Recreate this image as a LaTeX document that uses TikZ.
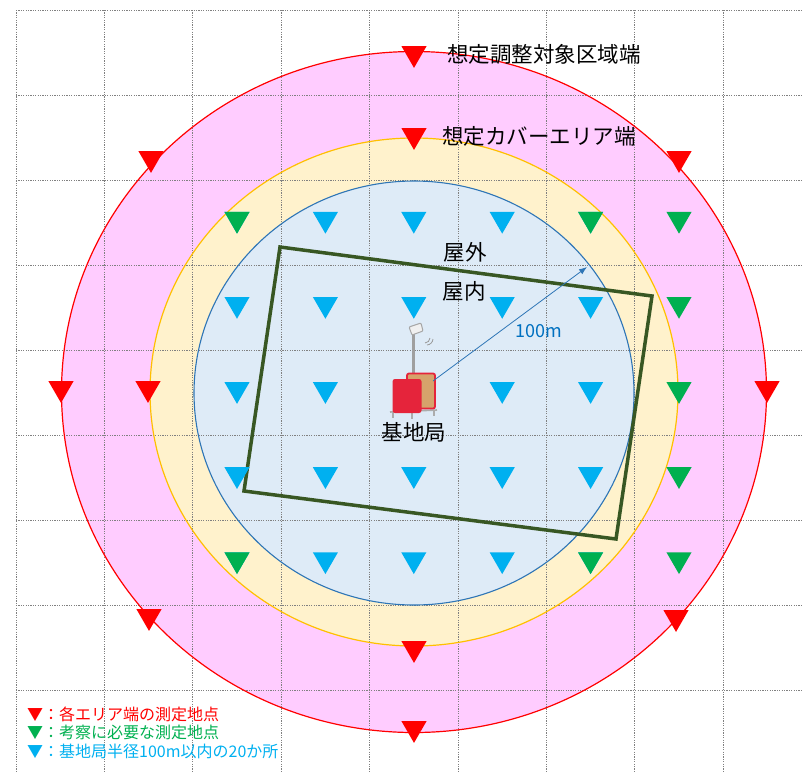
\documentclass[tikz,border=0pt]{standalone}
\usepackage{fontspec}
\setmainfont{Noto Sans CJK JP}
\usetikzlibrary{shapes.geometric,arrows.meta}
\definecolor{zonepink}{HTML}{FFCCFF}
\definecolor{coverfill}{HTML}{FFF2CC}
\definecolor{coverline}{HTML}{FFC000}
\definecolor{cellfill}{HTML}{DEEBF7}
\definecolor{cellline}{HTML}{2E75B6}
\definecolor{markcyan}{HTML}{00B0F0}
\definecolor{markgreen}{HTML}{00B050}
\definecolor{bldgreen}{HTML}{385723}
\definecolor{textblue}{HTML}{0070C0}
\definecolor{vanred}{HTML}{E5243B}
\definecolor{vantan}{HTML}{D6A36B}
\tikzset{
  gridline/.style  = {black!50, line width=1pt, dash pattern=on 1.1pt off 1.3pt},
  pointmark/.style = {regular polygon, regular polygon sides=3,
                      shape border rotate=180, minimum size=29pt,
                      inner sep=0pt, yshift=3.6pt},
  edgemark/.style  = {pointmark, fill=red},
  checkmark/.style = {pointmark, fill=markgreen},
  basemark/.style  = {pointmark, fill=markcyan},
  zonelabel/.style = {font=\fontsize{21.5}{25}\selectfont, inner sep=0pt},
  keyline/.style   = {font=\fontsize{16}{18}\selectfont, anchor=west, inner sep=0pt}
}

\begin{document}
\begin{tikzpicture}[x=1pt, y=-1pt]
\useasboundingbox (0,0) rectangle (802,772);

% areas
\fill[zonepink]  (414,392) ellipse [x radius=352.5, y radius=340.5];
\fill[coverfill] (414,392) ellipse [x radius=264,   y radius=254];
\fill[cellfill]  (414,393) ellipse [x radius=220,   y radius=212];

% grid
\foreach \k in {0,...,8} {
  \draw[gridline] ({16+88.4*\k},10) -- ({16+88.4*\k},772);
  \draw[gridline] (16,{10+85.1*\k}) -- (802,{10+85.1*\k});
}

\draw[red, line width=1.2pt]         (414,392) ellipse [x radius=352.5, y radius=340.5];
\draw[coverline, line width=1.2pt]   (414,392) ellipse [x radius=264,   y radius=254];
\draw[cellline, line width=1.1pt]    (414,393) ellipse [x radius=220,   y radius=212];

% building
\draw[bldgreen, line width=3.5pt] (280,247) -- (652,296) -- (616,539) -- (244,491) -- cycle;

% base station
\draw[gray!75, line width=2.5pt] (413.5,377) -- (413.5,334);
\filldraw[fill=gray!12, draw=gray!70, line width=1pt, rounded corners=1pt]
  (409,327) -- (421,323) -- (423,331) -- (412,335) -- cycle;
\draw[gray!80, line width=0.8pt] (425,343) to[bend right=40] (430,338);
\draw[gray!80, line width=0.8pt] (427,345) to[bend right=40] (433,339);
\draw[gray!65, line width=1.6pt] (390,412) -- (437,410);
\draw[gray!65, line width=1.6pt] (393,412) -- (393,418) (412,412) -- (412,419) (434,410) -- (434,416);
\node[draw=vanred, fill=vantan, line width=1.8pt, rounded corners=2pt,
      minimum width=28pt, minimum height=35pt, inner sep=0pt] (bsbody) at (421,391) {};
\node[fill=vanred, rounded corners=2.5pt, minimum width=29pt, minimum height=34pt,
      inner sep=0pt] (bsfront) at (407,396) {};
\node[zonelabel] (bslabel) at (414,432) {基地局};
\coordinate (feed) at (433,381);
\coordinate (rim)  at (587,267);
\draw[cellline, line width=0.8pt, -{Latex[length=8pt,width=6pt]}] (feed) -- (rim);

% measuring points within 100m
\foreach \i in {0,...,4}
  \foreach \j in {0,...,4} {
    \ifnum\i\j=22 \else
      \node[basemark] (p\i\j) at ({237+88.4*\i},{222.75+85.1*\j}) {};
    \fi
  }
\foreach \i/\j in {0/0, 4/0, 0/4, 4/4}
  \node[checkmark] (p\i\j) at ({237+88.4*\i},{222.75+85.1*\j}) {};
\foreach \j in {0,...,4}
  \node[checkmark] (q\j) at (679,{222.75+85.1*\j}) {};

% area edges
\foreach \x/\y [count=\n] in {414/57, 414/139, 414/652, 414/732, 61/392,
                               148/392, 767/392, 151/162, 679/162, 149/620, 676/621}
  \node[edgemark] (e\n) at (\x,\y) {};

% labels
\node[zonelabel, anchor=west] (lblzone)  at (447,54)  {想定調整対象区域端};
\node[zonelabel, anchor=west] (lblcover) at (442,136) {想定カバーエリア端};
\node[zonelabel] (lblout) at (465,252) {屋外};
\node[zonelabel] (lblin)  at (464,291) {屋内};
\node[zonelabel, font=\fontsize{18}{22}\selectfont, textblue] (lblrange) at (539,331) {100m};

% legend
\node[keyline, red]       (keyedge)  at (27,714) {▼：各エリア端の測定地点};
\node[keyline, markgreen] (keycheck) at (27,732) {▼：考察に必要な測定地点};
\node[keyline, markcyan]  (keybase)  at (27,751) {▼：基地局半径100m以内の20か所};
\end{tikzpicture}
\end{document}
